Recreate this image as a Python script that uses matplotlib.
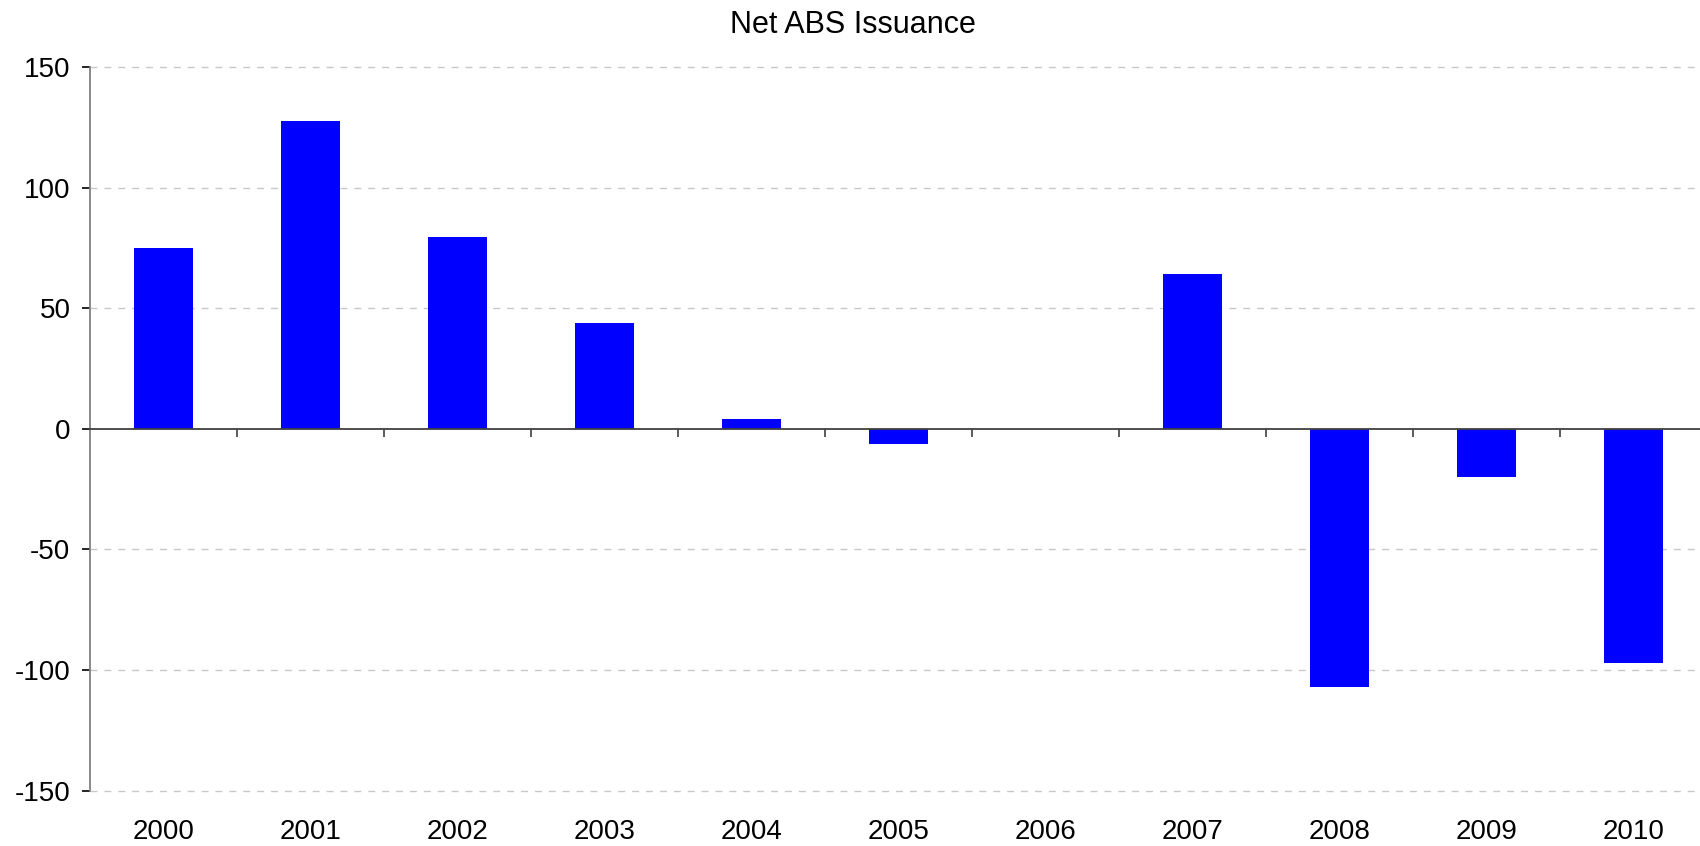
import matplotlib.pyplot as plt
from matplotlib.transforms import blended_transform_factory

plt.rcParams['font.family'] = ['Liberation Sans', 'DejaVu Sans']
plt.rcParams['axes.unicode_minus'] = False

years = ['2000', '2001', '2002', '2003', '2004', '2005', '2006', '2007', '2008', '2009', '2010']
net_abs = [75, 127.5, 79.5, 44, 4, -6.5, 0, 64, -107, -20, -97]

fig = plt.figure(figsize=(17, 8.46), dpi=100)
# plot area runs past the right edge like in the original
ax = fig.add_axes([0.0529, 0.0656, 0.9512, 0.8552])

x = range(len(years))
ax.bar(x, net_abs, width=0.4, color='#0000ff', linewidth=0, zorder=3)

ax.set_xlim(-0.5, len(years) - 0.5)
ax.set_ylim(-150, 150)
ax.set_yticks([-150, -100, -50, 0, 50, 100, 150])
ax.tick_params(axis='y', labelsize=20, length=6, width=1.2, pad=8, color='black')

for v in [-150, -100, -50, 50, 100, 150]:
    ax.axhline(v, color='#c8c8c8', linestyle=(0, (5, 5)), linewidth=1, zorder=1, clip_on=False)

# zero line with category separators
ax.spines['bottom'].set_position(('data', 0))
ax.spines['bottom'].set_color('#404040')
ax.spines['bottom'].set_linewidth(1.3)
ax.spines['bottom'].set_zorder(4)
ax.set_xticks([i + 0.5 for i in range(len(years) - 1)])
ax.set_xticklabels([])
ax.tick_params(axis='x', direction='out', length=6, width=1.2, color='#404040')

ax.spines['top'].set_visible(False)
ax.spines['right'].set_visible(False)
ax.spines['left'].set_color('#808080')
ax.spines['left'].set_linewidth(1.3)

trans = blended_transform_factory(ax.transData, ax.transAxes)
for i, yr in enumerate(years):
    ax.text(i, -0.058, yr, transform=trans, ha='center', va='center', fontsize=20)

fig.text(0.502, 0.971, 'Net ABS Issuance', ha='center', va='center', fontsize=22)

fig.savefig('out.png', dpi=100)
